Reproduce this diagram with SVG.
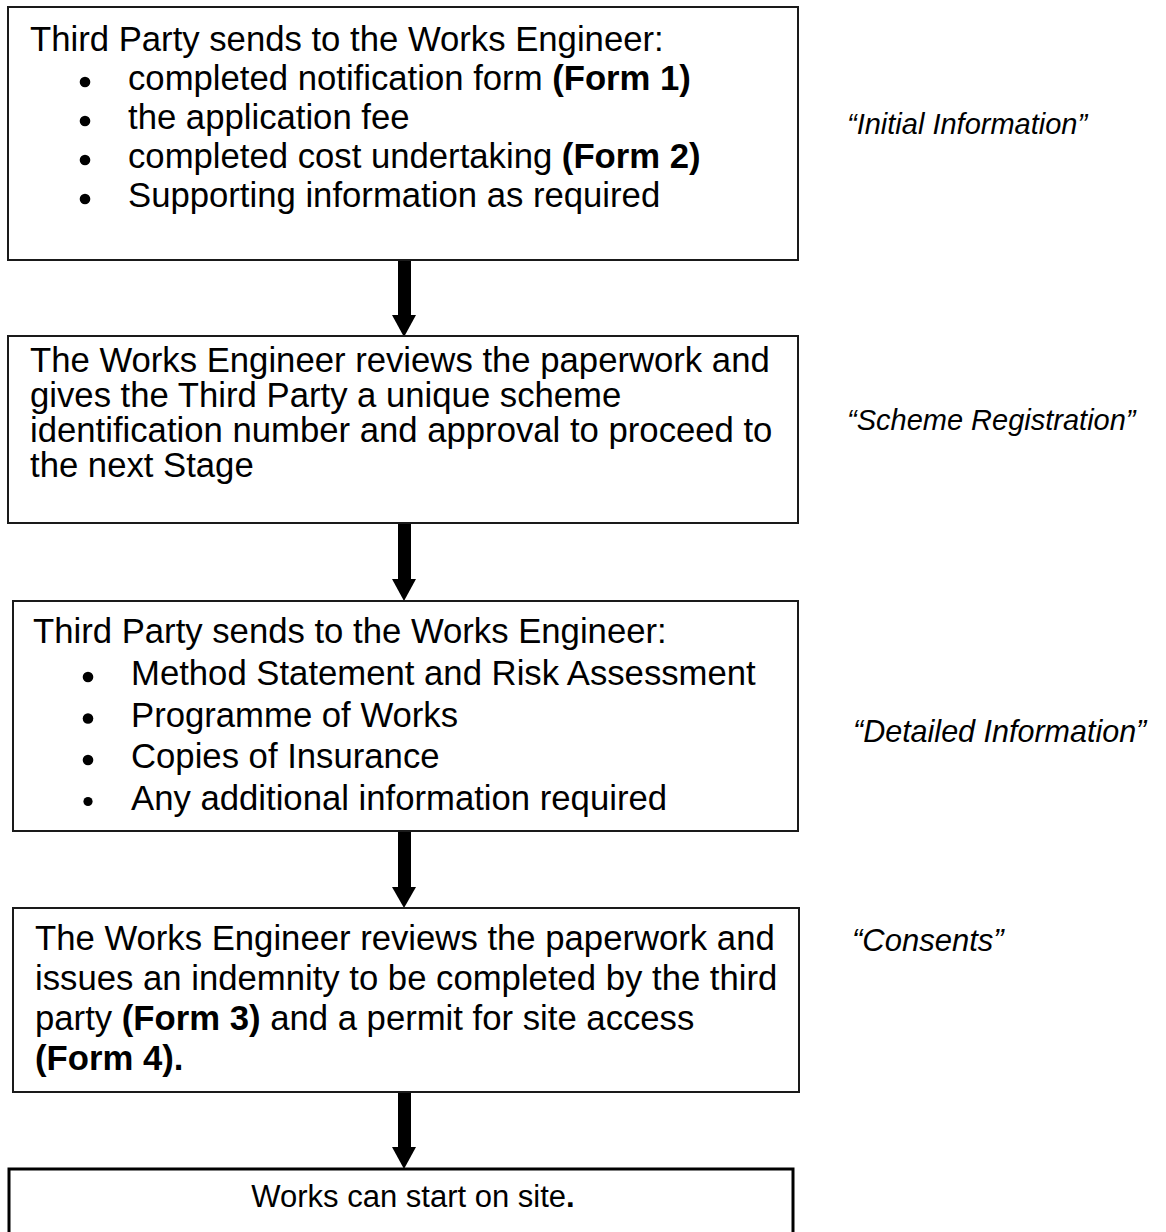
<svg xmlns="http://www.w3.org/2000/svg" width="1166" height="1232" viewBox="0 0 1166 1232">
<style>
  .box { fill: #ffffff; stroke: #1a1a1a; stroke-width: 2; }
  .t { font-family: "Liberation Sans", Arial, sans-serif; font-size: 34.7px; fill: #000; }
  .b { font-weight: bold; }
  .lbl { font-family: "Liberation Sans", Arial, sans-serif; font-size: 29px; font-style: italic; fill: #000; }
  .bul { fill: #000; }
  .arrow { fill: #000; }
</style>
<rect width="1166" height="1232" fill="#ffffff"/>

<g id="connectors">
  <g id="arrow1"><rect class="arrow" x="398" y="260" width="13" height="56"/><polygon class="arrow" points="392,315 416,315 404,337"/></g>
  <g id="arrow2"><rect class="arrow" x="398" y="524" width="13" height="56"/><polygon class="arrow" points="392,579 416,579 404,601"/></g>
  <g id="arrow3"><rect class="arrow" x="398" y="832" width="13" height="56"/><polygon class="arrow" points="392,887 416,887 404,908"/></g>
  <g id="arrow4"><rect class="arrow" x="398" y="1093" width="13" height="55"/><polygon class="arrow" points="392,1147 416,1147 404,1169"/></g>
</g>

<g id="node1">
  <rect class="box" x="8" y="7" width="790" height="253"/>
  <text class="t" x="30" y="51">Third Party sends to the Works Engineer:</text>
  <circle class="bul" cx="85" cy="82" r="5.3"/>
  <text class="t" x="128" y="90">completed notification form <tspan class="b">(Form 1)</tspan></text>
  <circle class="bul" cx="85" cy="121" r="5.3"/>
  <text class="t" x="128" y="129">the application fee</text>
  <circle class="bul" cx="85" cy="160" r="5.3"/>
  <text class="t" x="128" y="168">completed cost undertaking <tspan class="b">(Form 2)</tspan></text>
  <circle class="bul" cx="85" cy="199" r="5.3"/>
  <text class="t" x="128" y="207">Supporting information as required</text>
</g>

<g id="node2">
  <rect class="box" x="8" y="336" width="790" height="187"/>
  <text class="t" x="30" y="372">The Works Engineer reviews the paperwork and</text>
  <text class="t" x="30" y="407">gives the Third Party a unique scheme</text>
  <text class="t" x="30" y="442">identification number and approval to proceed to</text>
  <text class="t" x="30" y="477">the next Stage</text>
</g>

<g id="node3">
  <rect class="box" x="13" y="601" width="785" height="230"/>
  <text class="t" x="33" y="643">Third Party sends to the Works Engineer:</text>
  <circle class="bul" cx="88" cy="677" r="5.3"/>
  <text class="t" x="131" y="685">Method Statement and Risk Assessment</text>
  <circle class="bul" cx="88" cy="718.5" r="5.3"/>
  <text class="t" x="131" y="726.5">Programme of Works</text>
  <circle class="bul" cx="88" cy="760" r="5.3"/>
  <text class="t" x="131" y="768">Copies of Insurance</text>
  <circle class="bul" cx="88" cy="801.5" r="4.6"/>
  <text class="t" x="131" y="809.5">Any additional information required</text>
</g>

<g id="node4">
  <rect class="box" x="13" y="908" width="786" height="184"/>
  <text class="t" x="35" y="950">The Works Engineer reviews the paperwork and</text>
  <text class="t" x="35" y="990">issues an indemnity to be completed by the third</text>
  <text class="t" x="35" y="1030">party <tspan class="b">(Form 3)</tspan> and a permit for site access</text>
  <text class="t b" x="35" y="1070">(Form 4).</text>
</g>

<g id="node5">
  <rect class="box" x="9" y="1169" width="784" height="90" style="stroke:#000;stroke-width:3"/>
  <text class="t" x="413" y="1207" style="font-size:31px" text-anchor="middle">Works can start on site<tspan class="b">.</tspan></text>
</g>

<g id="labels">
  <text class="lbl" x="847" y="134">“Initial Information”</text>
  <text class="lbl" x="847" y="430">“Scheme Registration”</text>
  <text class="lbl" x="853" y="742" style="font-size:30.5px">“Detailed Information”</text>
  <text class="lbl" x="852" y="951" style="font-size:31px">“Consents”</text>
</g>
</svg>
